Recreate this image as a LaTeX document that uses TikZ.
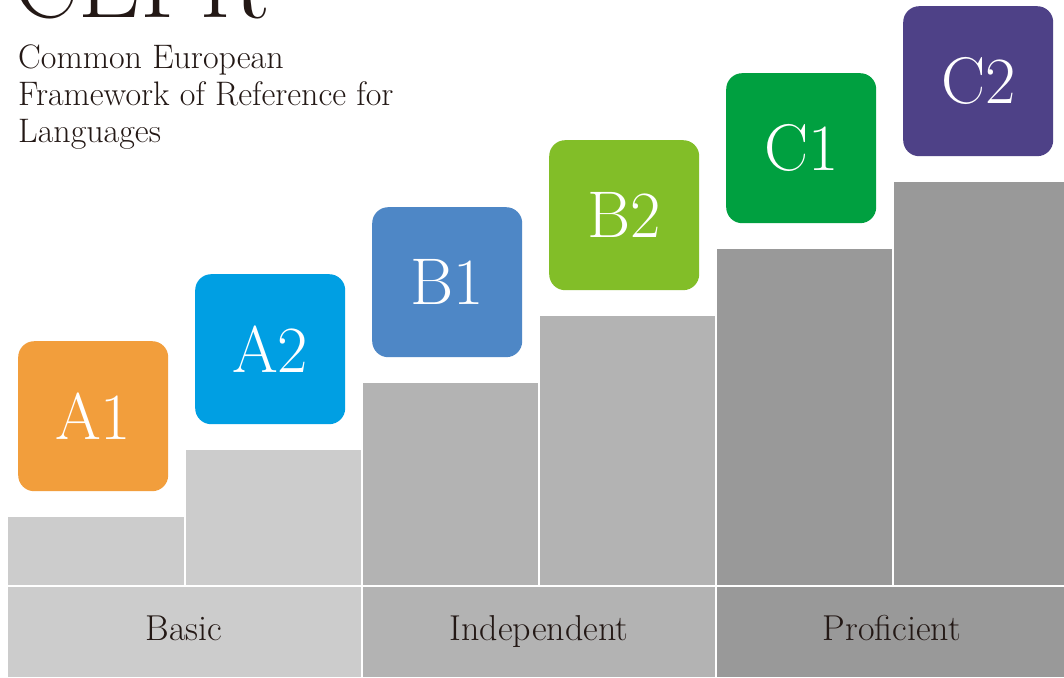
\documentclass[tikz,border=0pt]{standalone}
\usepackage{fontspec}
\definecolor{gA}{HTML}{CCCCCC}
\definecolor{gB}{HTML}{B3B3B3}
\definecolor{gC}{HTML}{999999}
\definecolor{cAone}{HTML}{F29E3C}
\definecolor{cAtwo}{HTML}{009FE3}
\definecolor{cBone}{HTML}{4E87C6}
\definecolor{cBtwo}{HTML}{82BE28}
\definecolor{cCone}{HTML}{00A040}
\definecolor{cCtwo}{HTML}{4E4187}
\definecolor{ink}{HTML}{231815}
\tikzset{
  level/.style={rounded corners=16pt, minimum width=150pt, minimum height=150pt,
    inner sep=0pt, text=white, font=\fontsize{66}{66}\selectfont, anchor=north west},
  band/.style={text=ink, font=\fontsize{36}{36}\selectfont, anchor=base},
  subline/.style={anchor=base west, inner sep=0pt, text=ink, font=\fontsize{34}{34}\selectfont},
}
\begin{document}
\begin{tikzpicture}[x=1pt,y=-1pt]
\useasboundingbox (0,0) rectangle (1064,677);
\clip (0,0) rectangle (1064,677);
\fill[white] (0,0) rectangle (1064,677);
% steps
\fill[gA] (8,517) rectangle (184,585);
\fill[gA] (186,450) rectangle (361,585);
\fill[gB] (363,383) rectangle (538,585);
\fill[gB] (540,316) rectangle (715,585);
\fill[gC] (717,249) rectangle (892,585);
\fill[gC] (894,182) rectangle (1064,585);
% bottom band
\fill[gA] (8,587) rectangle (361,677);
\fill[gB] (363,587) rectangle (715,677);
\fill[gC] (717,587) rectangle (1064,677);
\node[band] (basic) at (184,640) {Basic};
\node[band] (indep) at (539,640) {Independent};
\node[band] (prof) at (892,640) {Proficient};
% level boxes
\node[level, fill=cAone] (a1) at (18,341) {A1};
\node[level, fill=cAtwo] (a2) at (195,274) {A2};
\node[level, fill=cBone] (b1) at (372,207) {B1};
\node[level, fill=cBtwo] (b2) at (549,140) {B2};
\node[level, fill=cCone] (c1) at (726,73) {C1};
\node[level, fill=cCtwo] (c2) at (903,6) {C2};
% title
\node[anchor=base west, inner sep=0pt, text=ink, font=\fontsize{98}{98}\selectfont] (title) at (13,18) {CEFR};
\node[subline] (sub1) at (18,68) {Common European};
\node[subline] (sub2) at (18,105) {Framework of Reference for};
\node[subline] (sub3) at (18,142) {Languages};
\end{tikzpicture}
\end{document}
